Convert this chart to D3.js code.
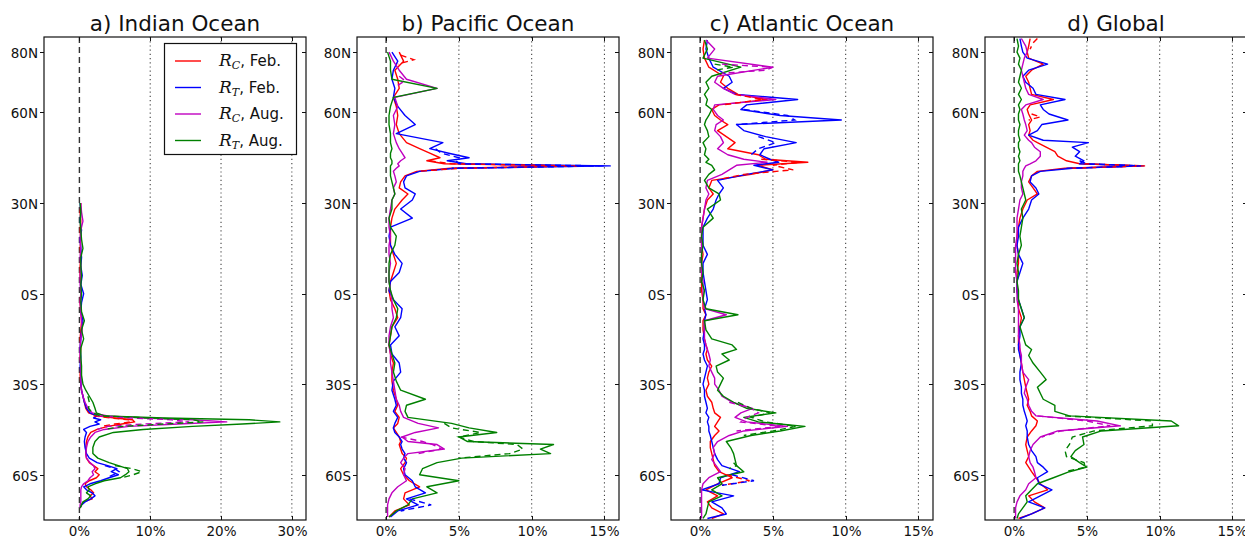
<!DOCTYPE html>
<html>
<head>
<meta charset="utf-8">
<script src="https://d3js.org/d3.v7.min.js"></script>
<style>
  body { margin: 0; background: #fff; }
  svg { display: block; font-family: 'DejaVu Sans', sans-serif; }
</style>
</head>
<body>
<svg id="chart" width="1245" height="538"></svg>
<script>
// ---- data: values in %, latitude in degrees (N positive) ----
var latIndian = [30, 27, 24, 21, 18, 15, 12, 9, 6, 3,
  0, -3, -6, -9, -12, -15, -18, -21, -24, -27,
  -30, -32, -34, -36, -38, -39.5, -40.5, -41.2, -41.8, -42.5,
  -43.2, -44, -45, -46, -47.5, -49, -51, -53, -54.5, -56,
  -57, -58, -59, -60, -61, -62, -63, -64, -65, -66,
  -67, -68, -69, -70, -71];
var indianRcFeb = [0.2, 0.1, 0.2, 0.1, 0.2, 0.1, 0.2, 0.1, 0.1, 0.2,
  0.2, 0.1, 0.2, 0.3, 0.2, 0.1, 0.2, 0.1, 0.2, 0.1,
  0.2, 0.3, 0.5, 0.7, 0.9, 1.3, 2.5, 5.0, 7.5, 7.8,
  6.0, 4.0, 2.5, 1.6, 1.2, 1.0, 0.9, 0.9, 1.0, 1.4,
  2.0, 2.6, 2.2, 2.8, 2.4, 1.4, 0.8, 1.0, 1.6, 2.0,
  1.5, 1.8, 0.6, 0.3, 0.1];
var indianRtFeb = [0.1, 0.2, 0.1, 0.3, 0.1, 0.2, 0.3, 0.2, 0.4, 0.2,
  0.6, 0.3, 0.2, 0.5, 0.3, 0.2, 0.1, 0.2, 0.1, 0.2,
  0.2, 0.3, 0.5, 0.7, 1.0, 1.5, 2.5, 2.0, 3.0, 2.2,
  2.8, 1.5, 0.6, 1.0, 0.8, 0.7, 0.8, 1.0, 1.4, 2.5,
  4.0, 5.3, 4.5, 5.5, 4.2, 3.0, 1.5, 0.6, 1.0, 1.8,
  2.2, 1.6, 0.8, 0.3, 0.1];
var indianRcAug = [0.2, 0.3, 0.5, 0.2, 0.1, 0.2, 0.1, 0.2, 0.1, 0.1,
  0.2, 0.1, 0.2, 0.3, 0.4, 0.2, 0.1, 0.1, 0.2, 0.2,
  0.2, 0.3, 0.5, 0.8, 1.2, 1.8, 4.0, 9.0, 16.0, 20.8,
  14.0, 7.0, 3.5, 2.2, 1.6, 1.2, 1.0, 0.9, 1.0, 1.5,
  2.0, 2.2, 1.8, 2.0, 1.5, 1.2, 0.6, 0.3, 0.2, 0.2,
  0.2, 0.2, 0.2, 0.1, 0.1];
var indianRtAug = [0.1, 0.2, 0.1, 0.2, 0.3, 0.5, 0.2, 0.2, 0.3, 0.2,
  0.3, 0.2, 0.3, 0.7, 0.3, 0.6, 0.2, 0.2, 0.3, 0.3,
  0.5, 0.9, 1.4, 1.9, 2.2, 2.4, 3.5, 12.0, 24.0, 28.3,
  23.0, 16.0, 9.0, 4.8, 2.8, 2.2, 1.9, 1.9, 2.6, 4.2,
  5.5, 6.8, 7.0, 6.5, 5.8, 3.5, 2.2, 1.2, 1.4, 1.0,
  1.6, 1.2, 0.5, 0.3, 0.1];
var indianRcFebDashLat = [-40.5, -41.2, -41.8, -42.5, -43.2, -44];
var indianRcFebDash = [2.0, 4.5, 7.0, 7.3, 5.0, 3.0];
var indianRtFebDashLat = [-57, -58, -59, -60, -61];
var indianRtFebDash = [3.6, 5.0, 5.6, 4.8, 3.8];
var indianRcAugDashLat = [-40.5, -41.2, -41.8, -42.5, -43.2, -44, -45];
var indianRcAugDash = [2.5, 7.0, 13.0, 15.5, 9.0, 4.0, 2.5];
var indianRtAugDashLat = [-34, -36, -38, -39.5, -40.5, -41.2, -41.8, -42.5, -43.2, -44, -45, -50, -57, -58, -59, -60, -61];
var indianRtAugDash = [1.2, 1.4, 1.3, 1.8, 3.0, 10.0, 16.0, 17.5, 12.0, 6.0, 3.5, null, 5.0, 7.5, 8.8, 7.6, 6.0];

var latPacific = [80, 77, 74, 71, 68, 65, 62, 59, 56, 53,
  50, 48, 46.5, 45, 44, 43, 42.3, 41.5, 40.5, 39,
  37, 35, 33, 31, 28, 25, 22, 19, 16, 13,
  10, 7, 4, 1, -2, -5, -8, -11, -14, -17,
  -20, -23, -26, -29, -32, -35, -37, -39, -41, -43,
  -44.5, -46, -47.5, -49, -50, -51.5, -53, -54.5, -56, -58,
  -60, -62, -64, -66, -68, -70, -72, -74];
var pacificRcFeb = [0.9, 1.2, 0.6, 0.8, 0.9, 0.5, 0.7, 0.8, 0.7, 0.9,
  1.4, 2.3, 3.0, 3.7, 2.8, 4.0, 12.6, 4.4, 2.1, 1.3,
  1.0, 0.9, 1.5, 1.1, 0.6, 0.4, 0.3, 0.3, 0.3, 0.5,
  0.7, 0.5, 0.3, 0.2, 0.3, 0.6, 0.8, 0.4, 0.3, 0.2,
  0.3, 0.5, 0.4, 0.4, 0.5, 0.7, 0.8, 0.6, 0.9, 0.8,
  0.5, 0.7, 0.9, 1.0, 0.9, 1.0, 1.1, 1.4, 1.3, 1.0,
  1.2, 1.6, 2.3, 1.3, 1.2, 1.6, 0.6, 0.2];
var pacificRtFeb = [0.4, 0.8, 0.5, 0.4, 0.6, 0.5, 0.8, 1.3, 2.0, 0.7,
  3.9, 3.0, 4.3, 5.7, 4.2, 5.5, 15.4, 4.8, 2.3, 1.4,
  1.2, 1.3, 2.0, 1.8, 1.0, 1.8, 0.3, 0.2, 0.3, 0.6,
  1.1, 0.9, 0.3, 0.2, 0.5, 1.1, 1.0, 0.6, 0.9, 0.3,
  0.4, 0.9, 1.0, 0.5, 0.4, 0.6, 0.7, 0.5, 0.8, 0.6,
  0.5, 0.6, 0.9, 1.1, 1.0, 1.1, 1.3, 1.2, 1.4, 1.2,
  1.3, 1.8, 2.0, 2.7, 1.4, 2.2, 0.8, 0.3];
var pacificRcAug = [0.2, 0.5, 0.9, 1.4, 3.5, 0.6, 0.8, 0.5, 0.6, 0.5,
  0.7, 0.9, 1.1, 1.3, 1.0, 0.8, 0.9, 0.7, 0.5, 0.6,
  0.7, 0.5, 0.6, 0.4, 0.3, 0.2, 0.2, 0.3, 0.2, 0.2,
  0.3, 0.2, 0.2, 0.3, 0.4, 0.4, 0.5, 0.3, 0.2, 0.2,
  0.3, 0.3, 0.4, 0.5, 0.6, 0.7, 0.9, 1.0, 1.2, 2.2,
  3.6, 2.0, 1.1, 1.5, 3.5, 4.0, 1.5, 1.2, 1.0, 1.3,
  1.2, 1.4, 0.8, 0.4, 0.2, 0.1, 0.1, 0.1];
var pacificRtAug = [0.1, 0.3, 0.3, 0.4, 3.5, 0.5, 0.3, 0.2, 0.2, 0.3,
  0.3, 0.4, 0.3, 0.3, 0.4, 0.4, 0.3, 0.3, 0.3, 0.3,
  0.4, 0.5, 0.6, 0.4, 0.4, 0.2, 0.3, 0.7, 0.6, 0.3,
  0.2, 0.2, 0.2, 0.3, 0.5, 0.8, 0.7, 0.4, 0.3, 0.2,
  0.4, 0.6, 0.5, 0.7, 1.0, 2.7, 1.4, 1.3, 1.5, 4.5,
  5.7, 7.6, 5.0, 5.6, 11.5, 10.6, 11.3, 5.2, 3.5, 2.5,
  2.3, 5.0, 2.8, 3.5, 1.8, 1.5, 0.7, 0.2];
var pacificRcFebDashLat = [79, 77.5, 76, 70, 44, 43, 42.3, 41.5, 40.5];
var pacificRcFebDash = [1.0, 1.9, 0.8, null, 3.0, 4.5, 13.2, 5.0, 2.2];
var pacificRtFebDashLat = [48, 46.5, 45, 44, 43, 42.3, 41.5, 0, -68, -70, -72];
var pacificRtFebDash = [3.4, 3.8, 5.0, 4.8, 5.0, 15.0, 4.5, null, 1.6, 3.1, 1.0];
var pacificRcAugDashLat = [72, 70.5, 69, 0, -47.5, -49, -50, -51.5, -53];
var pacificRcAugDash = [0.9, 1.3, 0.8, null, 1.0, 2.5, 3.2, 3.8, 2.2];
var pacificRtAugDashLat = [-43, -44.5, -46, -47.5, -49, -50, -51.5, -53, -54.5];
var pacificRtAugDash = [4.0, 4.5, 6.5, 5.0, 6.0, 9.0, 9.4, 8.5, 5.0];

var latAtlantic = [84, 81, 78, 75, 72, 70, 68, 66, 64.3, 62.5,
  61, 59, 57.5, 56, 54, 52, 50, 48, 46, 44.5,
  43.5, 42.5, 41, 39.5, 37.5, 35, 33, 31, 28, 25,
  22, 19, 16, 13, 10, 7, 4, 1, -2, -5,
  -7, -9, -12, -15, -17, -18.5, -20, -22, -24, -26,
  -28, -30, -32, -34, -36, -38, -39.5, -41, -42.5, -44,
  -45.5, -47, -49, -51, -53, -55, -57, -59, -61, -63,
  -65, -67, -69, -71, -73, -74.5];
var atlanticRcFeb = [0.3, 0.2, 0.3, 0.6, 1.6, 1.4, 1.9, 2.6, 4.6, 1.3,
  0.8, 1.0, 1.4, 1.9, 1.2, 1.8, 2.4, 1.9, 4.0, 4.5,
  7.4, 4.0, 5.0, 3.5, 0.8, 0.6, 0.9, 0.5, 0.3, 0.2,
  0.1, 0.1, 0.1, 0.2, 0.1, 0.1, 0.1, 0.1, 0.2, 0.2,
  0.4, 0.2, 0.2, 0.3, 0.4, 0.5, 0.4, 0.5, 0.8, 0.6,
  0.5, 0.6, 0.4, 0.5, 0.8, 0.9, 1.0, 1.4, 1.2, 1.0,
  1.3, 1.0, 0.7, 0.7, 0.8, 0.9, 1.0, 1.3, 2.2, 1.2,
  0.4, 1.2, 0.5, 0.8, 1.6, 0.8];
var atlanticRtFeb = [0.5, 0.4, 0.6, 0.9, 2.0, 2.2, 1.6, 2.5, 6.7, 3.2,
  2.8, 5.5, 9.7, 2.5, 3.0, 4.5, 6.6, 4.4, 4.1, 4.8,
  5.4, 3.7, 5.0, 3.2, 1.2, 1.6, 1.3, 1.1, 0.9, 0.5,
  0.2, 0.2, 0.2, 0.5, 0.2, 0.2, 0.3, 0.4, 0.5, 0.3,
  0.4, 0.3, 0.3, 0.2, 0.3, 0.3, 0.2, 0.3, 0.5, 0.4,
  0.3, 0.2, 0.3, 0.3, 0.4, 0.5, 0.4, 0.6, 0.5, 0.6,
  0.6, 0.7, 0.8, 0.9, 1.0, 1.2, 1.5, 2.7, 1.4, 1.3,
  0.1, 2.3, 0.8, 1.5, 1.8, 0.5];
var atlanticRcAug = [0.4, 1.0, 0.5, 5.0, 1.2, 1.0, 1.6, 2.4, 5.2, 1.0,
  0.9, 1.2, 1.6, 1.1, 1.0, 1.4, 1.6, 1.2, 1.9, 3.0,
  4.6, 2.5, 2.0, 1.5, 0.5, 0.4, 0.6, 0.4, 0.3, 0.2,
  0.1, 0.1, 0.1, 0.1, 0.1, 0.1, 0.2, 0.2, 0.2, 0.3,
  1.8, 0.3, 0.3, 0.3, 0.4, 0.5, 0.6, 0.7, 0.6, 0.8,
  1.0, 1.0, 1.3, 1.5, 2.2, 3.6, 2.8, 2.4, 3.2, 6.0,
  3.0, 2.0, 1.2, 0.9, 1.0, 0.8, 1.1, 1.4, 0.6, 0.2,
  0.1, 0.1, 0.1, 0.1, 0.1, 0.1];
var atlanticRtAug = [0.3, 0.5, 0.2, 2.8, 0.8, 0.4, 0.6, 0.3, 0.5, 0.4,
  0.8, 0.6, 0.4, 0.3, 0.5, 0.6, 0.2, 0.4, 0.3, 0.6,
  0.4, 0.8, 1.0, 0.6, 0.3, 0.6, 1.3, 1.4, 0.5, 0.9,
  0.2, 0.1, 0.2, 0.1, 0.1, 0.2, 0.1, 0.3, 0.2, 0.4,
  2.6, 0.3, 0.4, 0.8, 2.2, 2.5, 1.5, 2.0, 1.1, 1.2,
  1.6, 1.4, 1.2, 1.6, 2.3, 3.2, 5.2, 3.0, 4.0, 7.2,
  5.5, 3.5, 1.8, 2.1, 2.3, 2.4, 2.5, 3.0, 1.2, 1.5,
  0.8, 1.5, 0.6, 0.5, 0.4, 0.2];
var atlanticRcFebDashLat = [66, 64.3, 62.5, 60, 44.5, 43.5, 42.5, 41, 39.5, 38, 0, -60, -62, -63.5];
var atlanticRcFebDash = [2.4, 4.3, 1.5, null, 4.2, 6.8, 5.0, 6.4, 3.0, 1.5, null, 1.8, 3.4, 1.5];
var atlanticRtFebDashLat = [61, 59, 57.5, 56, 54, 52, 50, 48, 46, 0, -60, -62, -63.5];
var atlanticRtFebDash = [3.0, 6.0, 6.5, 2.5, null, 4.0, 5.2, 4.0, 3.5, null, 2.2, 3.7, 1.5];
var atlanticRcAugDashLat = [76, 75, 74, 73, 0, -36, -38, -39.5, -41, -42.5, -44, -45.5];
var atlanticRcAugDash = [1.5, 5.0, 4.5, 1.5, null, 2.0, 3.5, 4.0, 3.2, 2.8, 5.5, 2.5];
var atlanticRtAugDashLat = [76, 75, 74, 0, -36, -38, -39.5, -41, -42.5, -44, -45.5, -47, -50, -56, -57, -58];
var atlanticRtAugDash = [1.0, 2.3, 1.0, null, 2.6, 3.5, 4.8, 3.5, 4.5, 6.6, 5.0, 3.0, null, 2.3, 2.5, 2.0];

var latGlobal = [84.5, 82, 80, 78, 76, 74, 72, 70, 68, 66,
  64.3, 62.5, 61, 59.5, 57.5, 56, 54, 52.5, 50.8, 50,
  48.5, 47, 45.5, 44, 43, 42.3, 41.5, 40.5, 39, 37,
  35, 33, 31, 28, 25, 22, 19, 16, 13, 10,
  7, 4, 1, -2, -5, -8, -11, -14, -17, -18.5,
  -20.5, -23, -26, -28.5, -31, -33, -35, -37, -39, -40.5,
  -42.2, -43.8, -45.5, -47.5, -50, -52, -54, -56, -57.5, -59,
  -61, -63, -65, -67, -69, -71, -73, -74.5];
var globalRcFeb = [1.1, 1.0, 0.9, 1.0, 2.0, 1.2, 0.8, 1.0, 1.1, 1.2,
  2.7, 1.1, 0.9, 1.0, 1.2, 1.0, 1.1, 1.0, 1.3, 1.6,
  2.2, 2.8, 3.0, 3.6, 4.5, 8.7, 3.5, 1.6, 1.2, 1.0,
  1.3, 1.6, 0.9, 0.6, 0.4, 0.3, 0.2, 0.2, 0.3, 0.3,
  0.2, 0.2, 0.2, 0.3, 0.3, 0.5, 0.4, 0.3, 0.3, 0.4,
  0.4, 0.5, 0.6, 0.7, 0.8, 0.9, 1.0, 0.9, 1.1, 1.2,
  1.6, 1.5, 1.2, 0.9, 0.8, 0.9, 1.0, 0.8, 1.0, 1.2,
  1.5, 1.8, 2.3, 1.0, 1.4, 2.1, 1.2, 0.3];
var globalRtFeb = [0.4, 0.5, 0.6, 0.9, 2.3, 1.0, 0.6, 0.8, 1.3, 1.5,
  3.5, 1.8, 2.0, 2.4, 3.7, 1.9, 1.6, 1.0, 2.0, 5.1,
  4.0, 4.5, 4.2, 4.8, 4.5, 8.9, 4.0, 1.8, 1.2, 1.1,
  1.5, 1.7, 1.2, 1.0, 0.6, 0.3, 0.3, 0.2, 0.3, 0.6,
  0.4, 0.2, 0.2, 0.3, 0.5, 0.7, 0.4, 0.4, 0.3, 0.3,
  0.4, 0.5, 0.4, 0.4, 0.5, 0.5, 0.6, 0.6, 0.7, 0.8,
  0.9, 0.8, 0.9, 0.9, 1.0, 1.2, 1.5, 1.6, 2.0, 2.3,
  1.6, 1.7, 2.6, 1.8, 1.0, 2.1, 1.2, 0.4];
var globalRcAug = [0.5, 0.8, 0.9, 0.7, 0.6, 0.5, 0.6, 0.7, 0.8, 1.0,
  2.0, 0.8, 0.5, 0.6, 0.7, 0.8, 0.9, 0.7, 1.0, 1.2,
  1.4, 1.8, 1.8, 1.5, 1.1, 0.8, 0.7, 0.6, 0.6, 0.5,
  0.5, 0.6, 0.4, 0.3, 0.2, 0.2, 0.2, 0.1, 0.1, 0.1,
  0.1, 0.2, 0.2, 0.2, 0.3, 0.3, 0.3, 0.3, 0.4, 0.4,
  0.5, 0.5, 0.6, 1.0, 0.8, 0.7, 0.9, 1.0, 1.2, 1.5,
  5.7, 7.3, 3.0, 1.8, 1.3, 1.1, 1.0, 1.1, 1.3, 1.4,
  1.5, 1.0, 0.8, 0.4, 0.2, 0.1, 0.1, 0.1];
var globalRtAug = [0.2, 0.3, 0.2, 0.4, 0.3, 0.5, 0.4, 0.3, 0.5, 0.3,
  0.5, 0.3, 0.4, 0.3, 0.3, 0.4, 0.3, 0.3, 0.4, 0.3,
  0.3, 0.4, 0.3, 0.4, 0.3, 0.3, 0.3, 0.3, 0.4, 0.5,
  0.6, 0.7, 0.8, 0.5, 0.6, 0.5, 0.4, 0.5, 0.3, 0.2,
  0.3, 0.2, 0.3, 0.3, 0.5, 0.7, 0.4, 0.6, 0.8, 1.2,
  1.0, 1.3, 1.8, 2.2, 1.6, 1.8, 2.0, 2.8, 2.8, 3.8,
  10.8, 11.3, 6.0, 4.7, 4.8, 4.2, 3.9, 4.5, 5.0, 3.8,
  2.7, 1.6, 1.2, 0.8, 0.9, 0.6, 0.3, 0.2];
var globalRcFebDashLat = [84.5, 83, 81, 70, 59.5, 58.5, 57.5, 50, 43, 42.3, 41.5];
var globalRcFebDash = [1.6, 1.3, 1.1, null, 1.2, 1.8, 1.0, null, 4.8, 9.0, 3.8];
var globalRtFebDashLat = [44, 43, 42.3, 41.5];
var globalRtFebDash = [4.5, 5.0, 8.7, 3.6];
var globalRcAugDashLat = [-40.5, -42.2, -43.8, -45.5, -47.5];
var globalRcAugDash = [1.6, 5.0, 6.6, 3.2, 1.9];
var globalRtAugDashLat = [-40.5, -42.2, -43.8, -45.5, -47.5, -50, -52, -54, -56, -57.5, -59];
var globalRtAugDash = [3.5, 9.5, 9.5, 5.5, 4.0, 3.8, 3.5, 3.6, 4.8, 4.9, 3.5];

var latTicks = [80, 60, 30, 0, -30, -60];
var latTickLabels = ['80N', '60N', '30N', '0S', '30S', '60S'];
var seriesColors = ['#ff0000', '#0000ff', '#c000c0', '#008000'];
var legendSubs = ['C', 'T', 'C', 'T'];
var legendMonths = [', Feb.', ', Feb.', ', Aug.', ', Aug.'];

var panels = [
  { title: 'a) Indian Ocean', left: 44, xMin: -5, xMax: 32, ticks: [0, 10, 20, 30], lat: latIndian,
    solid: [indianRcFeb, indianRtFeb, indianRcAug, indianRtAug],
    dashed: [[indianRcFebDashLat, indianRcFebDash], [indianRtFebDashLat, indianRtFebDash],
             [indianRcAugDashLat, indianRcAugDash], [indianRtAugDashLat, indianRtAugDash]], legend: true },
  { title: 'b) Pacific Ocean', left: 357, xMin: -2, xMax: 16, ticks: [0, 5, 10, 15], lat: latPacific,
    solid: [pacificRcFeb, pacificRtFeb, pacificRcAug, pacificRtAug],
    dashed: [[pacificRcFebDashLat, pacificRcFebDash], [pacificRtFebDashLat, pacificRtFebDash],
             [pacificRcAugDashLat, pacificRcAugDash], [pacificRtAugDashLat, pacificRtAugDash]] },
  { title: 'c) Atlantic Ocean', left: 671, xMin: -2, xMax: 16, ticks: [0, 5, 10, 15], lat: latAtlantic,
    solid: [atlanticRcFeb, atlanticRtFeb, atlanticRcAug, atlanticRtAug],
    dashed: [[atlanticRcFebDashLat, atlanticRcFebDash], [atlanticRtFebDashLat, atlanticRtFebDash],
             [atlanticRcAugDashLat, atlanticRcAugDash], [atlanticRtAugDashLat, atlanticRtAugDash]] },
  { title: 'd) Global', left: 985, xMin: -2, xMax: 16, ticks: [0, 5, 10, 15], lat: latGlobal,
    solid: [globalRcFeb, globalRtFeb, globalRcAug, globalRtAug],
    dashed: [[globalRcFebDashLat, globalRcFebDash], [globalRtFebDashLat, globalRtFebDash],
             [globalRcAugDashLat, globalRcAugDash], [globalRtAugDashLat, globalRtAugDash]] }
];

// ---- layout ----
var svg = d3.select('#chart');
var plotTop = 37, plotBottom = 520, plotW = 262;
svg.append('rect').attr('width', 1245).attr('height', 538).attr('fill', '#fff');

var y = d3.scaleLinear().domain([-75, 85]).range([plotBottom, plotTop]);

panels.forEach(function(p, pi) {
  var x = d3.scaleLinear().domain([p.xMin, p.xMax]).range([p.left, p.left + plotW]);
  var g = svg.append('g');

  var clipId = 'clip' + pi;
  g.append('clipPath').attr('id', clipId).append('rect')
    .attr('x', p.left).attr('y', plotTop).attr('width', plotW).attr('height', plotBottom - plotTop);

  // dotted grid
  g.selectAll('.grid').data(p.ticks.filter(function(t) { return t > 0; })).enter().append('line')
    .attr('x1', function(d) { return x(d); }).attr('x2', function(d) { return x(d); })
    .attr('y1', plotTop).attr('y2', plotBottom)
    .attr('stroke', '#444').attr('stroke-width', 1.1).attr('stroke-dasharray', '1.2,3');

  // zero line
  g.append('line').attr('x1', x(0)).attr('x2', x(0)).attr('y1', plotTop).attr('y2', plotBottom)
    .attr('stroke', '#333').attr('stroke-width', 1.4).attr('stroke-dasharray', '6,4');

  var line = d3.line()
    .defined(function(d) { return d[1] != null; })
    .x(function(d) { return x(d[1]); })
    .y(function(d) { return y(d[0]); });

  var lines = g.append('g').attr('clip-path', 'url(#' + clipId + ')');
  p.solid.forEach(function(vals, si) {
    var pts = p.lat.map(function(l, i) { return [l, vals[i]]; });
    lines.append('path').attr('d', line(pts)).attr('fill', 'none')
      .attr('stroke', seriesColors[si]).attr('stroke-width', 1.4).attr('stroke-linejoin', 'round');
  });
  p.dashed.forEach(function(pair, si) {
    var pts = pair[0].map(function(l, i) { return [l, pair[1][i]]; });
    lines.append('path').attr('d', line(pts)).attr('fill', 'none')
      .attr('stroke', seriesColors[si]).attr('stroke-width', 1.4).attr('stroke-dasharray', '6,4');
  });

  // frame
  g.append('rect').attr('x', p.left).attr('y', plotTop).attr('width', plotW).attr('height', plotBottom - plotTop)
    .attr('fill', 'none').attr('stroke', '#111').attr('stroke-width', 1.2);

  // y ticks and labels
  latTicks.forEach(function(t, i) {
    var yy = Math.round(y(t)) + 0.5;
    g.append('line').attr('x1', p.left - 4).attr('x2', p.left).attr('y1', yy).attr('y2', yy)
      .attr('stroke', '#111');
    g.append('line').attr('x1', p.left + plotW - 4).attr('x2', p.left + plotW).attr('y1', yy).attr('y2', yy)
      .attr('stroke', '#111');
    g.append('text').attr('x', p.left - 6).attr('y', yy + 5).attr('text-anchor', 'end')
      .attr('font-size', 13.5).attr('fill', '#111').text(latTickLabels[i]);
  });

  // x ticks and labels
  p.ticks.forEach(function(t) {
    var xx = Math.round(x(t)) + 0.5;
    g.append('line').attr('x1', xx).attr('x2', xx).attr('y1', plotBottom - 4).attr('y2', plotBottom).attr('stroke', '#111');
    g.append('line').attr('x1', xx).attr('x2', xx).attr('y1', plotTop).attr('y2', plotTop + 4).attr('stroke', '#111');
    g.append('text').attr('x', xx).attr('y', 536).attr('text-anchor', 'middle')
      .attr('font-size', 13.5).attr('fill', '#111').text(t + '%');
  });

  // title
  g.append('text').attr('x', p.left + plotW / 2).attr('y', 31).attr('text-anchor', 'middle')
    .attr('font-size', 21.5).attr('fill', '#111').text(p.title);

  // legend
  if (p.legend) {
    var lg = g.append('g');
    lg.append('rect').attr('x', 164.5).attr('y', 43.5).attr('width', 132).attr('height', 111)
      .attr('fill', '#fff').attr('stroke', '#111').attr('stroke-width', 1.2);
    seriesColors.forEach(function(c, i) {
      var ry = 61 + i * 26.5;
      lg.append('line').attr('x1', 175).attr('x2', 201).attr('y1', ry).attr('y2', ry)
        .attr('stroke', c).attr('stroke-width', 1.4);
      var txt = lg.append('text').attr('x', 219).attr('y', ry + 5).attr('fill', '#111');
      txt.append('tspan').attr('font-family', 'DejaVu Serif').attr('font-style', 'italic')
        .attr('font-size', 17).text('R');
      txt.append('tspan').attr('font-family', 'DejaVu Serif').attr('font-style', 'italic')
        .attr('font-size', 11).attr('dy', 3).text(legendSubs[i]);
      txt.append('tspan').attr('font-size', 15).attr('dy', -3).text(legendMonths[i]);
    });
  }
});
</script>
</body>
</html>
